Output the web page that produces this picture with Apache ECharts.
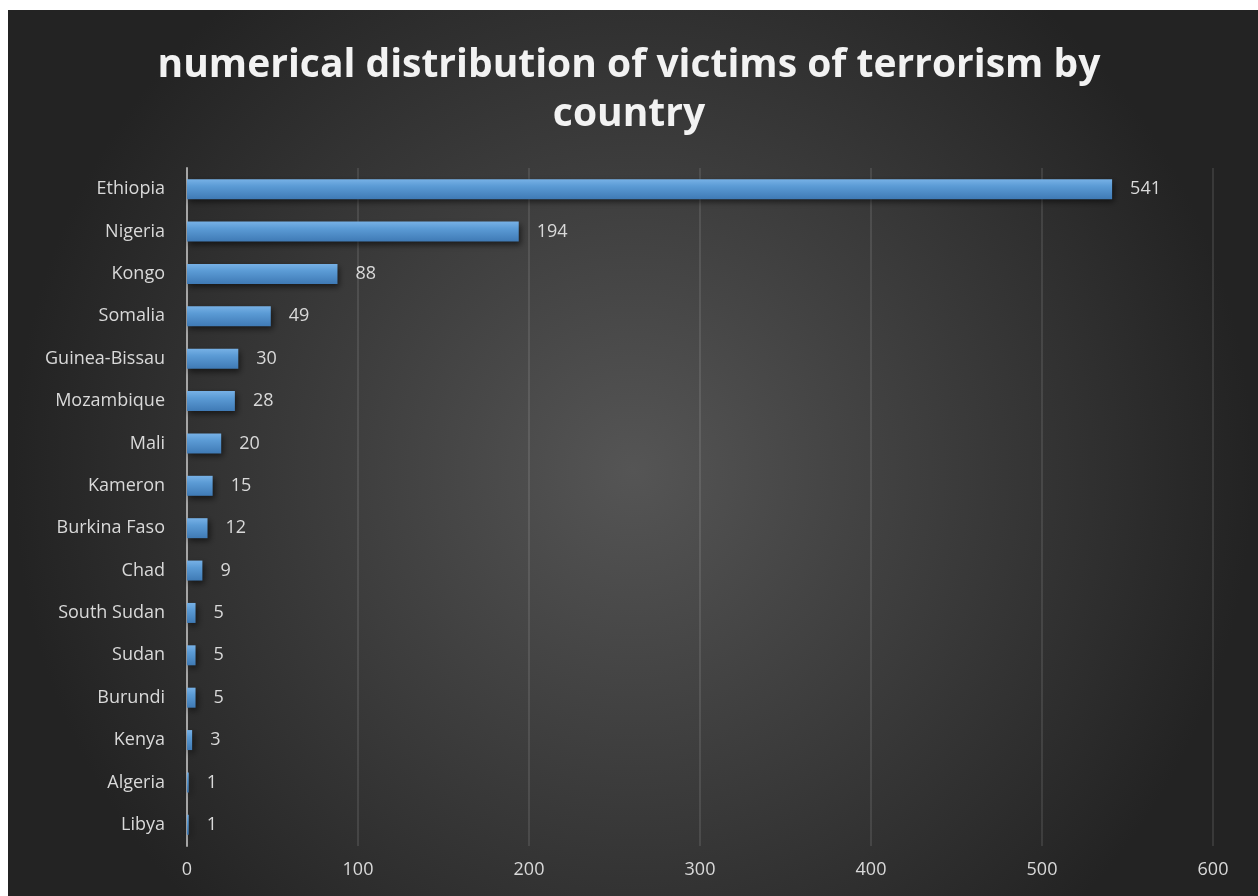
<!DOCTYPE html>
<html>
<head>
<meta charset="utf-8">
<script src="https://cdn.jsdelivr.net/npm/echarts@6/dist/echarts.min.js"></script>
<style>
  html, body { margin: 0; padding: 0; background: #ffffff; }
  #chart { width: 1258px; height: 896px; }
</style>
</head>
<body>
<div id="chart"></div>
<script>
const countries = ['Ethiopia', 'Nigeria', 'Kongo', 'Somalia', 'Guinea-Bissau', 'Mozambique', 'Mali', 'Kameron',
  'Burkina Faso', 'Chad', 'South Sudan', 'Sudan', 'Burundi', 'Kenya', 'Algeria', 'Libya'];
const victims = [541, 194, 88, 49, 30, 28, 20, 15, 12, 9, 5, 5, 5, 3, 1, 1];

const chart = echarts.init(document.getElementById('chart'));

const option = {
  backgroundColor: '#ffffff',
  title: {
    text: 'numerical distribution of victims of terrorism by\ncountry',
    left: 'center',
    top: 36,
    textStyle: {
      color: '#f2f2f2',
      fontFamily: 'Open Sans',
      fontWeight: 'bold',
      fontSize: 39,
      lineHeight: 49
    }
  },
  graphic: [
    {
      type: 'rect',
      left: 8,
      top: 10,
      z: -10,
      shape: { width: 1250, height: 886 },
      style: {
        fill: new echarts.graphic.RadialGradient(0.5, 0.52, 0.7, [
          { offset: 0, color: '#555555' },
          { offset: 1, color: '#232323' }
        ])
      }
    }
  ],
  grid: {
    left: 187,
    right: 45,
    top: 168,
    bottom: 50
  },
  xAxis: {
    type: 'value',
    min: 0,
    max: 600,
    interval: 100,
    axisLine: { show: false },
    axisTick: { show: false },
    axisLabel: {
      color: '#d9d9d9',
      fontFamily: 'Open Sans',
      fontSize: 18,
      margin: 15
    },
    splitLine: {
      lineStyle: { color: 'rgba(255,255,255,0.1)', width: 2 }
    }
  },
  yAxis: {
    type: 'category',
    data: countries,
    inverse: true,
    axisLine: {
      lineStyle: { color: '#a6a6a6', width: 2 }
    },
    axisTick: { show: false },
    axisLabel: {
      color: '#d9d9d9',
      fontFamily: 'Open Sans',
      fontSize: 18,
      margin: 22
    }
  },
  series: [
    {
      type: 'bar',
      data: victims,
      barWidth: 20,
      itemStyle: {
        color: new echarts.graphic.LinearGradient(0, 0, 0, 1, [
          { offset: 0, color: '#77b1e6' },
          { offset: 0.35, color: '#5b9bd5' },
          { offset: 1, color: '#3f7ab5' }
        ]),
        shadowColor: 'rgba(0,0,0,0.55)',
        shadowBlur: 6,
        shadowOffsetX: 2,
        shadowOffsetY: 3
      },
      label: {
        show: true,
        position: 'right',
        distance: 18,
        color: '#d9d9d9',
        fontFamily: 'Open Sans',
        fontSize: 18
      }
    }
  ]
};

chart.setOption(option);
</script>
</body>
</html>
